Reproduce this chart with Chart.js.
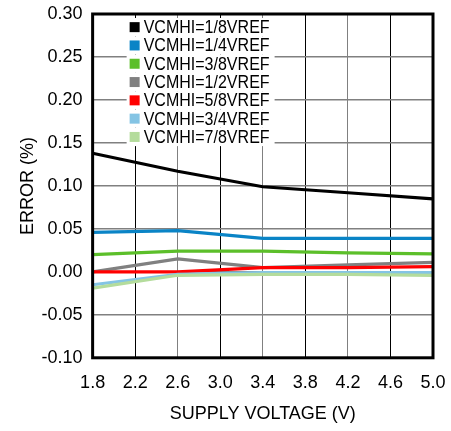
<!DOCTYPE html>
<html lang="en">
<head>
    <meta charset="UTF-8">
    <title>Error vs Supply Voltage</title>
    <script src="https://cdn.jsdelivr.net/npm/chart.js"></script>
    <style>
        body { margin: 0; padding: 0; background: #fff; }
        #wrap { width: 451px; height: 431px; }
    </style>
</head>
<body>
    <div id="wrap"><canvas id="errChart"></canvas></div>

    <script>
        // supply voltages where values were read
        const voltages = [1.8, 2.6, 3.4, 4.2, 5.0];
        const seriesNames = ['VCMHI=1/8VREF', 'VCMHI=1/4VREF', 'VCMHI=3/8VREF', 'VCMHI=1/2VREF',
                             'VCMHI=5/8VREF', 'VCMHI=3/4VREF', 'VCMHI=7/8VREF'];
        const err18 = [0.138, 0.117, 0.099, 0.092, 0.085];
        const err14 = [0.046, 0.048, 0.039, 0.039, 0.039];
        const err38 = [0.020, 0.024, 0.024, 0.022, 0.021];
        const err12 = [0.000, 0.015, 0.005, 0.008, 0.011];
        const err58 = [0.000, 0.000, 0.005, 0.005, 0.006];
        const err34 = [-0.015, -0.003, -0.001, -0.001, -0.001];
        const err78 = [-0.019, -0.004, -0.003, -0.003, -0.004];
        const xTicks = [1.8, 2.2, 2.6, 3.0, 3.4, 3.8, 4.2, 4.6, 5.0];

        const colors = ['#000000', '#0a84c6', '#5cbf2a', '#808080', '#ff0000', '#84c4e4', '#b4dc9c'];
        const allSeries = [err18, err14, err38, err12, err58, err34, err78];

        const datasets = allSeries.map((vals, i) => ({
            label: seriesNames[i],
            data: vals.map((v, j) => ({ x: voltages[j], y: v })),
            borderColor: colors[i],
            backgroundColor: colors[i],
            borderWidth: 3.2,
            pointRadius: 0,
            tension: 0
        })).reverse(); // draw 1/8 on top

        const font = 'Arial, "Liberation Sans", sans-serif';

        // legend drawn inside the plot area
        const insideLegend = {
            id: 'insideLegend',
            afterDraw(chart) {
                const ctx = chart.ctx;
                const left = chart.chartArea.left + 36;
                const top = chart.chartArea.top + 4;
                const rowH = 18.3;
                const sx = 0.89;
                ctx.save();
                ctx.font = '18px ' + font;
                ctx.textBaseline = 'middle';
                seriesNames.forEach((name, i) => {
                    const y = top + rowH * i + rowH / 2;
                    const w = ctx.measureText(name).width * sx;
                    ctx.fillStyle = '#fff';
                    ctx.fillRect(left - 2, y - rowH / 2, w + 22, rowH);
                    ctx.fillStyle = colors[i];
                    ctx.fillRect(left + 1, y - 5, 10, 10);
                    ctx.fillStyle = '#000';
                    ctx.save();
                    ctx.translate(left + 15, y + 1);
                    ctx.scale(sx, 1);
                    ctx.fillText(name, 0, 0);
                    ctx.restore();
                });
                ctx.restore();
            }
        };

        const frame = {
            id: 'frame',
            afterDraw(chart) {
                const a = chart.chartArea;
                const ctx = chart.ctx;
                ctx.save();
                ctx.strokeStyle = '#000';
                ctx.lineWidth = 3;
                ctx.strokeRect(a.left, a.top, a.right - a.left, a.bottom - a.top);
                ctx.restore();
            }
        };

        new Chart(document.getElementById('errChart'), {
            type: 'line',
            data: { datasets },
            options: {
                responsive: true,
                maintainAspectRatio: false,
                animation: false,
                layout: { padding: { top: 0, right: 0, bottom: 6, left: 17 } },
                plugins: { legend: { display: false }, tooltip: { enabled: false } },
                scales: {
                    x: {
                        type: 'linear',
                        min: 1.8,
                        max: 5.0,
                        afterBuildTicks: (axis) => { axis.ticks = xTicks.map(v => ({ value: v })); },
                        afterFit: (axis) => { axis.paddingRight = 18; },
                        ticks: {
                            color: '#000',
                            font: { family: font, size: 18 },
                            padding: 14,
                            maxRotation: 0,
                            callback: (v) => v.toFixed(1)
                        },
                        grid: {
                            color: (c) => (c.index % 2 === 1 ? '#000' : '#808080'),
                            lineWidth: 1,
                            drawTicks: false
                        },
                        border: { display: false },
                        title: {
                            display: true,
                            text: 'SUPPLY VOLTAGE (V)',
                            color: '#000',
                            font: { family: font, size: 18 },
                            padding: { top: -4, bottom: 0 }
                        }
                    },
                    y: {
                        min: -0.10,
                        max: 0.30,
                        afterFit: (axis) => { axis.paddingTop = 14; },
                        ticks: {
                            stepSize: 0.05,
                            color: '#000',
                            font: { family: font, size: 18 },
                            padding: 10,
                            callback: (v) => v.toFixed(2)
                        },
                        grid: { color: '#808080', lineWidth: 1.5, drawTicks: false },
                        border: { display: false },
                        title: {
                            display: true,
                            text: 'ERROR (%)',
                            color: '#000',
                            font: { family: font, size: 18 },
                            padding: { top: 0, bottom: -7 }
                        }
                    }
                }
            },
            plugins: [insideLegend, frame]
        });
    </script>
</body>
</html>
